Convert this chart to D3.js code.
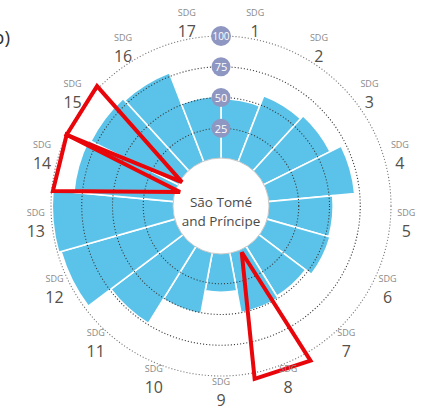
<!DOCTYPE html>
<html>
<head>
<meta charset="utf-8">
<script src="https://cdn.jsdelivr.net/npm/d3@7"></script>
<style>
  html, body { margin: 0; padding: 0; background: #fff; }
  svg { display: block; }
  text { font-family: "Open Sans", "Noto Sans", sans-serif; }
</style>
</head>
<body>
<svg id="chart" width="430" height="414"></svg>
<script>
// ---- data ----
const categories = ["1","2","3","4","5","6","7","8","9","10","11","12","13","14","15","16","17"];
const values     = [49, 58, 61, 71, 53, 54, 48, 50, 32, 51, 74, 97, 99, 82, 80, 78, 51];
const gridTicks  = [25, 50, 75, 100];
const countryLines = ["São Tomé", "and Príncipe"];
// red pointer triangles: [position in SDG-sector units, score]
const pointers = [
  [[7.36, 3], [7.08, 107], [7.98, 105]],
  [[14.24, -1], [14.83, 102], [13.92, 100]],
  [[13.64, -3], [13.92, 100], [12.99, 99]]
];

// ---- layout ----
const cx = 221, cy = 206;
const innerR = 47, outerR = 170;
const svg = d3.select("#chart");
const g = svg.append("g").attr("transform", `translate(${cx},${cy})`);

const r = d3.scaleLinear().domain([0, 100]).range([innerR, outerR]);
const a = d3.scaleLinear().domain([0, categories.length]).range([0, 2 * Math.PI]);

const pt = (pos, v) => {
  const ang = a(pos), rr = r(v);
  return [rr * Math.sin(ang), -rr * Math.cos(ang)];
};

// bars
const arc = d3.arc();
g.selectAll("path.bar")
  .data(values)
  .join("path")
  .attr("class", "bar")
  .attr("d", (v, i) => arc({
    innerRadius: innerR, outerRadius: r(v),
    startAngle: a(i), endAngle: a(i + 1)
  }))
  .attr("fill", "#5BC3E9")
  .attr("stroke", "#fff")
  .attr("stroke-width", 1.6);

// grid circles
g.selectAll("circle.grid")
  .data(gridTicks)
  .join("circle")
  .attr("class", "grid")
  .attr("r", d => r(d))
  .attr("fill", "none")
  .attr("stroke", (d) => d === 100 ? "#777" : "#3a3a3a")
  .attr("stroke-width", 1.1)
  .attr("stroke-dasharray", "1.1,2");

// centre circle
g.append("circle")
  .attr("r", innerR + 1)
  .attr("fill", "#fff")
  .attr("stroke", "#c8c8c8")
  .attr("stroke-width", 1);

g.selectAll("text.country")
  .data(countryLines)
  .join("text")
  .attr("class", "country")
  .attr("x", 0)
  .attr("y", (d, i) => -3 + i * 19)
  .attr("text-anchor", "middle")
  .attr("dominant-baseline", "middle")
  .attr("font-size", 13.5)
  .attr("fill", "#4a4a4a")
  .text(d => d);

// scale bubbles
const bub = g.selectAll("g.bubble")
  .data(gridTicks)
  .join("g")
  .attr("class", "bubble")
  .attr("transform", d => `translate(0,${-r(d)})`);
bub.append("circle")
  .attr("r", d => d === 100 ? 10 : 9.5)
  .attr("fill", "#8E97C2");
bub.append("text")
  .attr("text-anchor", "middle")
  .attr("dominant-baseline", "central")
  .attr("font-size", d => d === 100 ? 10 : 11)
  .attr("fill", "#fff")
  .text(d => d);

// red pointer triangles
g.selectAll("path.pointer")
  .data(pointers)
  .join("path")
  .attr("class", "pointer")
  .attr("d", d => "M" + d.map(p => pt(p[0], p[1]).join(",")).join("L") + "Z")
  .attr("fill", "none")
  .attr("stroke", "#E8060B")
  .attr("stroke-width", 4)
  .attr("stroke-linejoin", "miter");

// SDG labels
const labelR = 186;
const lab = g.selectAll("g.label")
  .data(categories)
  .join("g")
  .attr("class", "label")
  .attr("transform", (d, i) => {
    const ang = a(i + 0.5);
    return `translate(${labelR * Math.sin(ang)},${-labelR * Math.cos(ang)})`;
  });
lab.append("text")
  .attr("text-anchor", "middle")
  .attr("y", -7)
  .attr("font-size", 9)
  .attr("fill", "#8a8a8a")
  .text("SDG");
lab.append("text")
  .attr("text-anchor", "middle")
  .attr("y", 14)
  .attr("font-size", 16)
  .attr("fill", "#54504a")
  .text(d => d);

// panel tag (cut off at the left edge)
svg.append("text")
  .attr("x", 10)
  .attr("y", 44)
  .attr("text-anchor", "end")
  .attr("font-size", 19)
  .attr("fill", "#333")
  .text("b)");
</script>
</body>
</html>
